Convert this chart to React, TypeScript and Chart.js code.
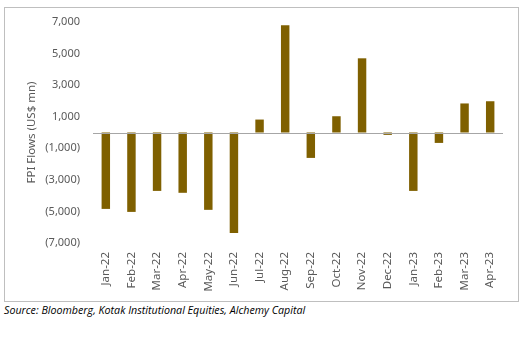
import React, { useEffect, useRef } from "react";
import { Chart, registerables } from "chart.js";

Chart.register(...registerables);

const categories = [
  "Jan-22", "Feb-22", "Mar-22", "Apr-22", "May-22", "Jun-22", "Jul-22", "Aug-22",
  "Sep-22", "Oct-22", "Nov-22", "Dec-22", "Jan-23", "Feb-23", "Mar-23", "Apr-23",
];
const fpiFlows = [
  -4840, -5030, -3700, -3820, -4900, -6360, 820, 6800,
  -1610, 1030, 4700, -150, -3700, -660, 1840, 1980,
];
const yMin = -7000;
const yMax = 7000;
const yStep = 2000;

const fmt = (v: number) => {
  const s = Math.abs(v).toLocaleString("en-US");
  return v < 0 ? `(${s})` : s;
};

const zeroLine = {
  id: "zeroLine",
  afterDatasetsDraw(chart: any) {
    const { ctx, chartArea, scales } = chart;
    const y = Math.round(scales.y.getPixelForValue(0)) + 0.5;
    ctx.save();
    ctx.strokeStyle = "#a6a6a6";
    ctx.lineWidth = 1;
    ctx.beginPath();
    ctx.moveTo(chartArea.left, y);
    ctx.lineTo(chartArea.right, y);
    ctx.stroke();
    ctx.restore();
  },
};

export default function App() {
  const ref = useRef<HTMLCanvasElement>(null);
  useEffect(() => {
    if (!ref.current) return;
    const family = "'Noto Sans', sans-serif";
    const chart = new Chart(ref.current, {
      type: "bar",
      data: {
        labels: categories,
        datasets: [
          {
            data: fpiFlows,
            backgroundColor: "#7f6000",
            borderWidth: 0,
            barPercentage: 0.33,
            categoryPercentage: 1,
          },
        ],
      },
      options: {
        animation: false,
        responsive: false,
        maintainAspectRatio: false,
        layout: { padding: { left: 0, right: 15, top: 14, bottom: 0 } },
        plugins: { legend: { display: false }, tooltip: { enabled: false } },
        scales: {
          x: {
            grid: { display: false, drawTicks: true, tickLength: 8 },
            border: { display: false },
            afterFit: (s: any) => {
              s.height = 58;
            },
            ticks: {
              color: "#595959",
              font: { family, size: 11.5 },
              minRotation: 90,
              maxRotation: 90,
              autoSkip: false,
              padding: 1,
            },
          },
          y: {
            min: yMin,
            max: yMax,
            grid: { display: false, drawTicks: true, tickLength: 8 },
            border: { display: false },
            afterFit: (s: any) => {
              s.width = 88;
            },
            ticks: {
              stepSize: yStep,
              color: "#595959",
              font: { family, size: 11 },
              padding: 5,
              callback: (v: any) => fmt(Number(v)),
            },
            title: {
              display: true,
              text: "FPI Flows (US$ mn)",
              color: "#595959",
              font: { family, size: 11.5 },
              padding: { top: 20, bottom: 0 },
            },
          },
        },
      },
      plugins: [zeroLine],
    });
    return () => chart.destroy();
  }, []);

  return (
    <div style={{ position: "absolute", left: 0, top: 0, width: 530, height: 350, background: "#fff" }}>
      <div
        style={{
          position: "absolute",
          left: 4,
          top: 7,
          width: 513,
          height: 293,
          border: "1px solid #bfbfbf",
        }}
      >
        <canvas ref={ref} width={513} height={293} style={{ display: "block" }} />
      </div>
      <div
        style={{
          position: "absolute",
          left: 4,
          top: 303,
          fontFamily: "'Open Sans', sans-serif",
          fontStyle: "italic",
          fontSize: 10.7,
          color: "#000",
          whiteSpace: "nowrap",
        }}
      >
        Source: Bloomberg, Kotak Institutional Equities, Alchemy Capital
      </div>
    </div>
  );
}
